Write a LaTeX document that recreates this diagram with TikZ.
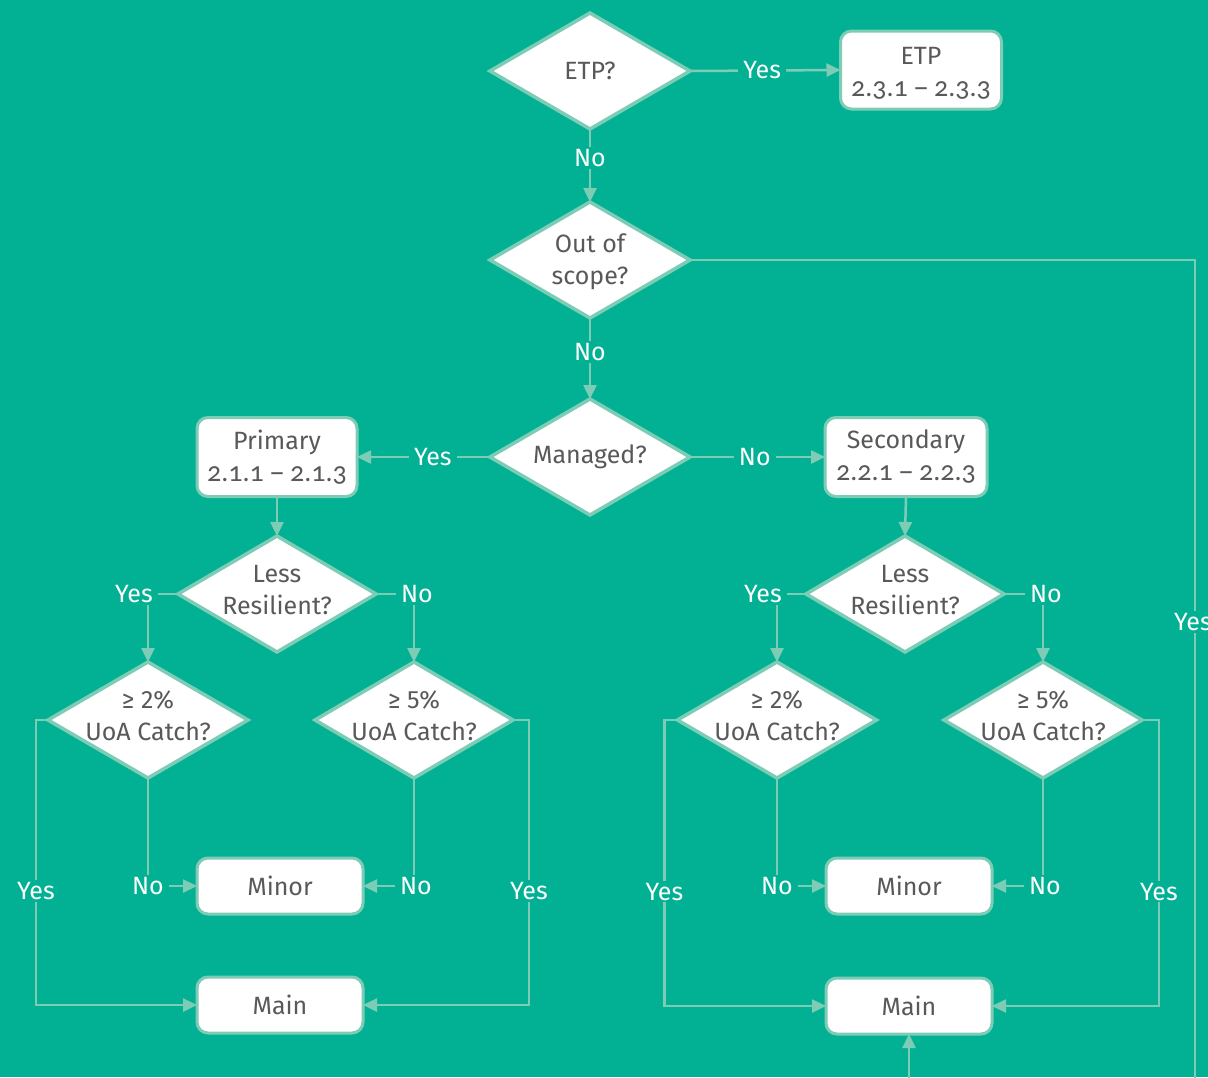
\documentclass[tikz,border=0pt]{standalone}
\usepackage{fontspec}
\setmainfont{Fira Sans}
\newfontfamily\onum{Carlito}[Numbers=OldStyle,Scale=1.12]
\usetikzlibrary{shapes.geometric,arrows.meta}
\definecolor{bg}{RGB}{2,177,148}
\definecolor{ln}{RGB}{125,204,182}
\definecolor{txt}{RGB}{88,89,91}
\begin{document}
\begin{tikzpicture}[x=1pt,y=-1pt,
  every node/.style={font=\fontsize{25}{32}\selectfont},
  dia/.style={diamond, draw=ln, line width=3.5pt, fill=white,
    minimum width=200pt, minimum height=116pt, inner sep=0pt, outer sep=0pt},
  dtext/.style={text=txt, align=center, inner sep=0pt},
  box/.style={rectangle, rounded corners=11pt, draw=ln, line width=3pt,
    fill=white, text=txt, align=center, inner sep=0pt, outer sep=0pt},
  conn/.style={draw=ln, line width=2.5pt},
  arr/.style={conn, -{Triangle[length=14pt,width=13pt]}},
  lab/.style={fill=bg, text=white, inner xsep=5pt, inner ysep=2pt}
]
\useasboundingbox (0,0) rectangle (1208,1077);
\fill[bg] (0,0) rectangle (1208,1077);
\clip (0,0) rectangle (1208,1077);

% decision column
\node[dia] (etp) at (590,71) {};
\node[dtext] (etpT) at (etp) {ETP?};
\node[box, minimum width=161pt, minimum height=78pt] (etpB) at (921,70) {};
\node[dtext, yshift=-3pt] (etpBT) at (etpB) {ETP\\{\onum 2.3.1} – {\onum 2.3.3}};
\node[dia] (oos) at (590,260) {};
\node[dtext, yshift=-2pt] (oosT) at (oos) {Out of\\scope?};
\node[dia] (man) at (590,457) {};
\node[dtext] (manT) at (man) {Managed?};
\node[box, minimum width=160pt, minimum height=79pt] (pri) at (277,457)
  {Primary\\{\onum 2.1.1} – {\onum 2.1.3}};
\node[box, minimum width=162pt, minimum height=79pt] (sec) at (906,457)
  {Secondary\\{\onum 2.2.1} – {\onum 2.2.3}};

% primary branch
\node[dia, minimum width=198pt] (lrL) at (277,594) {};
\node[dtext, yshift=4pt] (lrLT) at (lrL) {Less\\Resilient?};
\node[dia] (d2L) at (148,720) {};
\node[dtext, yshift=4pt] (d2LT) at (d2L) {≥ 2\%\\UoA Catch?};
\node[dia, minimum width=198pt] (d5L) at (414,720) {};
\node[dtext, yshift=4pt] (d5LT) at (d5L) {≥ 5\%\\UoA Catch?};
\node[box, minimum width=166pt, minimum height=56pt] (minL) at (280,886) {Minor};
\node[box, minimum width=166pt, minimum height=56pt] (mainL) at (280,1005) {Main};

% secondary branch
\node[dia, minimum width=198pt] (lrR) at (905,594) {};
\node[dtext, yshift=4pt] (lrRT) at (lrR) {Less\\Resilient?};
\node[dia, minimum width=199pt] (d2R) at (777,720) {};
\node[dtext, yshift=4pt] (d2RT) at (d2R) {≥ 2\%\\UoA Catch?};
\node[dia, minimum width=198pt] (d5R) at (1043,720) {};
\node[dtext, yshift=4pt] (d5RT) at (d5R) {≥ 5\%\\UoA Catch?};
\node[box, minimum width=166pt, minimum height=56pt] (minR) at (909,886) {Minor};
\node[box, minimum width=166pt, minimum height=56pt] (mainR) at (909,1006) {Main};

% main column connectors
\draw[arr] (etp.east) -- (etpB.west) node[lab, pos=0.48] (yEtp) {Yes};
\draw[arr] (etp.south) -- (oos.north) node[lab, pos=0.4] (nEtp) {No};
\draw[arr] (oos.south) -- (man.north) node[lab, pos=0.42] (nOos) {No};
\draw[arr] (man.west) -- (pri.east) node[lab, pos=0.43] (yMan) {Yes};
\draw[arr] (man.east) -- (sec.west) node[lab, pos=0.48] (nMan) {No};
\draw[arr] (oos.east) -| (1195,1120) -| (mainR.south);
\node[lab] (yOos) at (1193,622) {Yes};

% primary branch connectors
\draw[arr] (pri.south) -- (lrL.north);
\draw[arr] (lrL.west) -| (d2L.north) node[lab, pos=0.5, xshift=-14pt] (yLrL) {Yes};
\draw[arr] (lrL.east) -| (d5L.north) node[lab, pos=0.5, xshift=3pt] (nLrL) {No};
\draw[arr] (d2L.south) |- (minL.west) node[lab, pos=0.5] (nD2L) {No};
\draw[arr] (d5L.south) |- (minL.east) node[lab, pos=0.5, xshift=2pt] (nD5L) {No};
\draw[arr] (d2L.west) -- ++(-12,0) |- (mainL.west) node[lab, pos=0.3] (yD2L) {Yes};
\draw[arr] (d5L.east) -- ++(16,0) |- (mainL.east) node[lab, pos=0.3] (yD5L) {Yes};

% secondary branch connectors
\draw[arr] (sec.south) -- (lrR.north);
\draw[arr] (lrR.west) -| (d2R.north) node[lab, pos=0.5, xshift=-14pt] (yLrR) {Yes};
\draw[arr] (lrR.east) -| (d5R.north) node[lab, pos=0.5, xshift=3pt] (nLrR) {No};
\draw[arr] (d2R.south) |- (minR.west) node[lab, pos=0.5] (nD2R) {No};
\draw[arr] (d5R.south) |- (minR.east) node[lab, pos=0.5, xshift=2pt] (nD5R) {No};
\draw[arr] (d2R.west) -- ++(-13,0) |- (mainR.west) node[lab, pos=0.3] (yD2R) {Yes};
\draw[arr] (d5R.east) -- ++(17,0) |- (mainR.east) node[lab, pos=0.3] (yD5R) {Yes};
\end{tikzpicture}
\end{document}
